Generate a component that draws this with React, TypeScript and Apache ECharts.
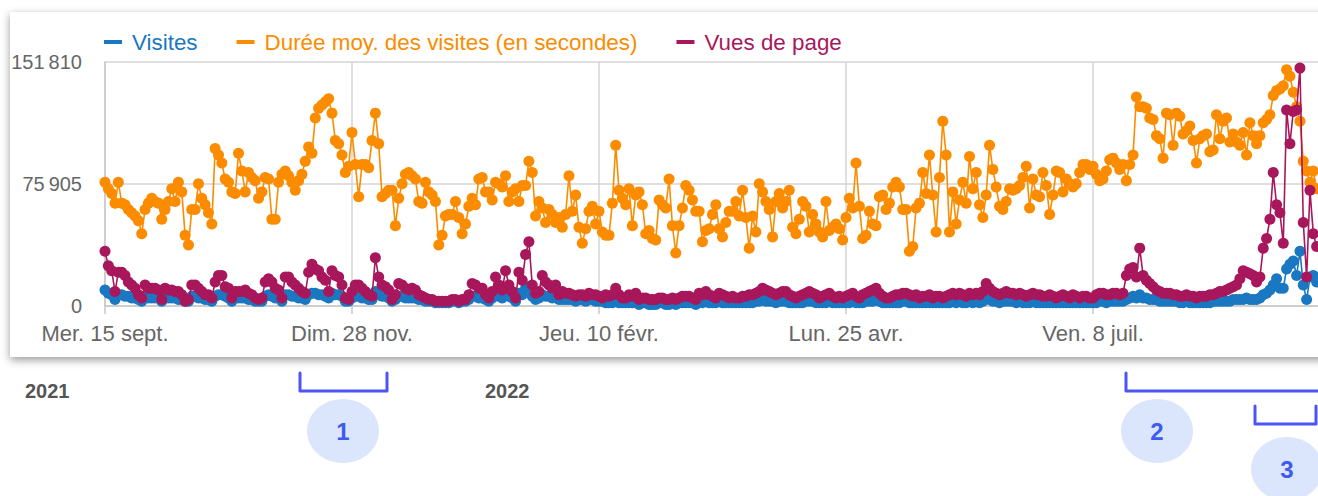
import React, { useEffect, useRef } from "react";
import * as echarts from "echarts";

// Valeurs journalières en milliers, du mer. 15 sept. 2021 (jour 0) au 13 sept. 2022
const visites = [
  10, 8, 7, 4, 7, 7, 6, 6, 5, 5,
  4, 3, 6, 5, 5, 5, 5, 3, 5, 5,
  5, 5, 4, 4, 3, 3, 6, 6, 5, 5,
  4, 4, 3, 6, 7, 7, 6, 5, 3, 5,
  5, 5, 5, 4, 4, 3, 3, 3, 6, 7,
  6, 5, 5, 3, 7, 7, 6, 6, 5, 5,
  4, 7, 8, 8, 7, 7, 6, 5, 8, 7,
  7, 6, 3, 3, 5, 6, 6, 5, 5, 4,
  4, 9, 7, 6, 6, 5, 3, 4, 6, 6,
  5, 5, 5, 5, 4, 4, 3, 3, 3, 2,
  2, 2, 2, 2, 3, 3, 2, 3, 3, 4,
  6, 6, 5, 5, 4, 3, 5, 7, 6, 5,
  8, 6, 5, 3, 8, 7, 11, 12, 6, 4,
  5, 7, 6, 6, 5, 6, 4, 4, 4, 4,
  4, 3, 4, 4, 3, 4, 4, 3, 3, 3,
  2, 2, 2, 4, 2, 2, 2, 2, 2, 3,
  1, 2, 2, 1, 1, 1, 2, 2, 1, 1,
  2, 1, 2, 2, 2, 2, 2, 1, 3, 2,
  3, 2, 2, 2, 3, 2, 2, 2, 2, 2,
  2, 2, 2, 2, 2, 3, 3, 4, 3, 3,
  3, 2, 3, 3, 3, 2, 2, 2, 2, 2,
  3, 3, 3, 2, 2, 2, 2, 3, 2, 2,
  2, 2, 2, 2, 3, 2, 2, 2, 3, 3,
  3, 4, 3, 2, 2, 2, 2, 2, 2, 3,
  3, 2, 2, 2, 2, 2, 2, 2, 2, 2,
  2, 2, 2, 2, 3, 2, 3, 2, 2, 3,
  2, 3, 2, 3, 5, 4, 3, 3, 2, 3,
  3, 3, 3, 2, 3, 2, 2, 2, 3, 2,
  2, 2, 2, 2, 2, 2, 2, 2, 2, 2,
  2, 2, 2, 2, 2, 2, 2, 2, 3, 3,
  2, 3, 3, 3, 3, 3, 4, 5, 6, 5,
  7, 5, 5, 4, 4, 4, 3, 3, 3, 3,
  3, 3, 2, 2, 3, 2, 2, 2, 2, 2,
  2, 2, 3, 3, 3, 3, 3, 3, 4, 4,
  4, 4, 5, 4, 4, 4, 5, 7, 8, 10,
  13, 17, 11, 11, 23, 26, 28, 19, 34, 13,
  4, 18, 19, 15,
];

const dureeMoy = [
  77, 73, 70, 64, 77, 64, 63, 60, 58, 56,
  53, 45, 60, 64, 67, 65, 64, 54, 60, 65,
  73, 65, 77, 71, 44, 38, 60, 60, 76, 67,
  63, 58, 51, 98, 94, 89, 79, 77, 71, 70,
  95, 84, 71, 83, 80, 78, 67, 71, 80, 79,
  54, 54, 77, 82, 84, 81, 77, 72, 78, 82,
  90, 99, 95, 117, 123, 125, 127, 129, 120, 103,
  101, 94, 83, 87, 108, 88, 68, 88, 88, 86,
  103, 120, 101, 68, 70, 72, 72, 50, 67, 76,
  82, 83, 81, 79, 65, 64, 77, 71, 69, 65,
  38, 44, 56, 57, 57, 65, 55, 45, 51, 62,
  67, 63, 79, 80, 71, 71, 66, 77, 76, 74,
  81, 65, 71, 73, 65, 75, 75, 90, 83, 56,
  65, 61, 52, 60, 57, 52, 55, 49, 57, 81,
  59, 69, 49, 39, 48, 59, 62, 51, 59, 46,
  44, 44, 64, 100, 72, 67, 63, 73, 50, 69,
  71, 63, 45, 47, 42, 41, 66, 63, 61, 79,
  50, 33, 50, 61, 75, 72, 66, 59, 59, 40,
  47, 48, 57, 63, 48, 43, 52, 59, 59, 65,
  56, 72, 55, 36, 56, 46, 76, 71, 65, 60,
  43, 65, 70, 61, 65, 72, 49, 45, 54, 65,
  62, 46, 57, 51, 46, 43, 65, 47, 49, 51,
  48, 41, 55, 67, 61, 89, 62, 42, 44, 59,
  51, 50, 68, 69, 60, 64, 74, 77, 74, 60,
  60, 34, 37, 61, 64, 83, 70, 94, 69, 46,
  80, 115, 94, 46, 71, 51, 66, 77, 64, 93,
  73, 83, 63, 55, 69, 100, 85, 74, 62, 60,
  65, 73, 72, 73, 75, 80, 87, 61, 79, 69,
  68, 83, 75, 57, 69, 84, 83, 71, 79, 76,
  74, 76, 83, 88, 88, 85, 87, 82, 78, 79,
  84, 91, 92, 89, 85, 88, 78, 88, 94, 130,
  124, 124, 123, 117, 116, 106, 104, 92, 120, 119,
  100, 120, 118, 107, 109, 112, 103, 89, 104, 106,
  107, 96, 97, 119, 104, 115, 117, 102, 107, 102,
  100, 108, 94, 114, 106, 101, 106, 114, 116, 119,
  131, 134, 135, 137, 147, 143, 133, 124, 115, 90,
  84, 77, 84, 73,
];

const vuesDePage = [
  34, 25, 22, 9, 21, 21, 19, 15, 13, 11,
  7, 5, 13, 11, 11, 11, 10, 4, 11, 10,
  10, 9, 9, 7, 3, 4, 13, 13, 11, 9,
  7, 7, 5, 15, 19, 19, 12, 11, 5, 9,
  9, 9, 10, 8, 7, 5, 4, 5, 15, 17,
  15, 11, 10, 5, 18, 18, 15, 13, 11, 9,
  8, 21, 26, 23, 22, 18, 16, 9, 22, 19,
  18, 13, 5, 4, 9, 13, 13, 11, 9, 7,
  6, 30, 18, 13, 12, 10, 4, 7, 14, 13,
  11, 10, 11, 10, 7, 6, 5, 4, 4, 3,
  3, 3, 3, 3, 4, 4, 3, 4, 4, 7,
  14, 13, 11, 11, 7, 5, 9, 18, 13, 10,
  22, 13, 9, 5, 21, 16, 32, 40, 13, 8,
  9, 19, 15, 13, 11, 13, 7, 9, 8, 8,
  7, 6, 7, 7, 6, 8, 7, 7, 6, 5,
  7, 6, 7, 11, 7, 5, 5, 7, 6, 8,
  4, 5, 5, 4, 4, 4, 5, 5, 4, 4,
  5, 4, 5, 6, 6, 6, 5, 4, 8, 7,
  9, 7, 6, 5, 8, 7, 6, 5, 6, 5,
  5, 6, 6, 7, 7, 8, 9, 11, 10, 9,
  8, 7, 8, 9, 9, 7, 6, 5, 6, 7,
  8, 9, 8, 7, 5, 6, 7, 8, 6, 5,
  6, 5, 6, 7, 8, 6, 5, 7, 8, 9,
  10, 11, 8, 6, 5, 5, 6, 7, 7, 8,
  8, 7, 6, 7, 5, 6, 6, 7, 5, 6,
  6, 5, 6, 7, 8, 7, 8, 7, 6, 8,
  7, 8, 7, 9, 14, 11, 9, 8, 7, 8,
  9, 8, 8, 7, 8, 7, 6, 7, 8, 7,
  7, 6, 6, 7, 6, 5, 6, 7, 6, 5,
  7, 6, 5, 6, 6, 5, 5, 7, 8, 8,
  7, 7, 8, 8, 7, 8, 19, 23, 24, 18,
  36, 19, 16, 14, 12, 10, 9, 8, 8, 8,
  7, 7, 6, 6, 7, 6, 6, 5, 6, 6,
  6, 7, 7, 8, 9, 9, 10, 11, 12, 13,
  17, 22, 21, 20, 19, 15, 18, 36, 42, 54,
  83, 63, 58, 39, 122, 101, 121, 122, 148, 52,
  18, 72, 45, 37,
];

const xTickLabels = ["Mer. 15 sept.", "Dim. 28 nov.", "Jeu. 10 févr.", "Lun. 25 avr.", "Ven. 8 juil."];
const xTickStep = 74; // jours entre deux graduations
const yMax = 151.81; // milliers
const yStep = 75.905;

const BLUE = "#1a78c2";
const ORANGE = "#fb8c00";
const CRIMSON = "#a8175b";
const ANNOT = "#4b55f5";
const FONT = "'Liberation Sans', Arial, Helvetica, sans-serif";

function fmtThousands(v: number): string {
  const n = Math.round(v * 1000);
  return String(n).replace(/\B(?=(\d{3})+(?!\d))/g, "\u202f");
}

export default function App() {
  const ref = useRef<HTMLDivElement>(null);

  useEffect(() => {
    if (!ref.current) return;
    const chart = echarts.init(ref.current, undefined, { renderer: "svg" });
    const mk = (arr: number[]) => arr.map((v, i) => [i, v]);
    const lineSeries = (name: string, color: string, arr: number[], z: number) => ({
      name,
      type: "line",
      data: mk(arr),
      symbol: "circle",
      symbolSize: 11,
      showSymbol: true,
      z,
      lineStyle: { width: 1.6, color },
      itemStyle: { color },
      emphasis: { disabled: true },
      clip: false,
    });

    const bracket = (pts: number[][]) => ({
      type: "polyline",
      shape: { points: pts },
      style: { stroke: ANNOT, lineWidth: 3, fill: null, lineJoin: "round", lineCap: "round" },
      z: 10,
    });
    const bubble = (cx: number, cy: number, label: string) => [
      { type: "ellipse", shape: { cx, cy, rx: 36, ry: 32 }, style: { fill: "#dbe6fc" }, z: 10 },
      {
        type: "text",
        x: cx,
        y: cy,
        style: {
          text: label, fill: "#3d5af5", fontSize: 24, fontWeight: "bold", fontFamily: FONT,
          align: "center", verticalAlign: "middle", textAlign: "center", textVerticalAlign: "middle",
        },
        z: 11,
      },
    ];
    const year = (x: number, label: string) => ({
      type: "text",
      x,
      y: 391,
      style: {
        text: label, fill: "#555", fontSize: 20, fontWeight: "bold", fontFamily: FONT,
        align: "left", verticalAlign: "middle", textAlign: "left", textVerticalAlign: "middle",
      },
      z: 10,
    });

    chart.setOption({
      animation: false,
      backgroundColor: "#ffffff",
      textStyle: { fontFamily: FONT },
      graphic: [
        {
          type: "rect",
          shape: { x: 10, y: 12, width: 1400, height: 345 },
          style: { fill: "#ffffff", shadowBlur: 9, shadowColor: "rgba(0,0,0,0.4)", shadowOffsetY: 3 },
          z: -10,
          silent: true,
        },
        year(25, "2021"),
        year(485, "2022"),
        bracket([[300, 373], [300, 391], [387, 391], [387, 373]]),
        bracket([[1126, 373], [1126, 391], [1340, 391]]),
        bracket([[1255, 406], [1255, 424], [1316, 424], [1316, 406]]),
        ...bubble(343, 431, "1"),
        ...bubble(1157, 431, "2"),
        ...bubble(1287, 469, "3"),
      ],
      legend: {
        left: 99,
        top: 26,
        icon: "rect",
        itemWidth: 18,
        itemHeight: 4,
        itemGap: 39,
        selectedMode: false,
        textStyle: { fontSize: 22.4, fontFamily: FONT, padding: [0, 0, 0, 5] },
        data: [
          { name: "Visites", textStyle: { color: BLUE } },
          { name: "Durée moy. des visites (en secondes)", textStyle: { color: ORANGE } },
          { name: "Vues de page", textStyle: { color: CRIMSON } },
        ],
      },
      grid: { left: 105, top: 62, width: 1235, height: 244, containLabel: false },
      xAxis: {
        type: "value",
        min: 0,
        max: xTickStep * 5,
        interval: xTickStep,
        axisLine: { show: true, lineStyle: { color: "#c8c8c8", width: 1.5 } },
        axisTick: { show: true, length: 8, lineStyle: { color: "#c8c8c8", width: 1.5 } },
        splitLine: { show: true, lineStyle: { color: "#d4d4d4", width: 1.5 } },
        axisLabel: {
          margin: 16,
          fontSize: 22,
          color: "#666",
          fontFamily: FONT,
          showMaxLabel: false,
          formatter: (v: number) => {
            const k = Math.round(v / xTickStep);
            return Math.abs(v - k * xTickStep) < 1e-6 && k < xTickLabels.length ? xTickLabels[k] : "";
          },
        },
      },
      yAxis: {
        type: "value",
        min: 0,
        max: yMax,
        interval: yStep,
        axisLine: { show: true, lineStyle: { color: "#c8c8c8", width: 1.5 } },
        axisTick: { show: false },
        splitLine: { show: true, lineStyle: { color: "#d4d4d4", width: 1.5 } },
        axisLabel: {
          margin: 23,
          fontSize: 20,
          color: "#666",
          fontFamily: FONT,
          formatter: (v: number) => fmtThousands(v),
        },
      },
      series: [
        lineSeries("Visites", BLUE, visites, 2),
        lineSeries("Durée moy. des visites (en secondes)", ORANGE, dureeMoy, 3),
        lineSeries("Vues de page", CRIMSON, vuesDePage, 4),
      ],
    });

    return () => chart.dispose();
  }, []);

  return (
    <div style={{ position: "absolute", left: 0, top: 0, width: 1318, height: 496, overflow: "hidden", background: "#fff" }}>
      <div ref={ref} style={{ width: 1400, height: 496 }} />
    </div>
  );
}
